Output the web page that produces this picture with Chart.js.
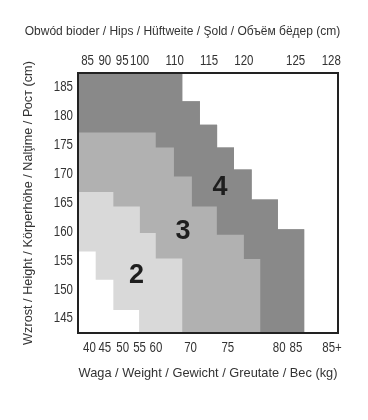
<!DOCTYPE html>
<html>
<head>
<meta charset="utf-8">
<script src="https://cdn.jsdelivr.net/npm/chart.js@4.4.1/dist/chart.umd.min.js"></script>
<style>
  html, body { margin: 0; padding: 0; background: #fff; }
  #wrap { width: 368px; height: 420px; position: relative; }
</style>
</head>
<body>
<div id="wrap"><canvas id="sizeChart"></canvas></div>
<script>
  // x runs 0..100 across the grid (the weight / hip columns are not evenly spaced)
  const hipTicks = ['85', '90', '95', '100', '110', '115', '120', '125', '128'];
  const hipTickAt = [3.7, 10.3, 17.0, 23.7, 37.2, 50.4, 63.8, 83.7, 97.4];
  const weightTicks = ['40', '45', '50', '55', '60', '70', '75', '80', '85', '85+'];
  const weightTickAt = [4.4, 10.3, 17.2, 23.7, 30.0, 43.3, 57.6, 77.4, 83.8, 97.7];
  const heightTicks = [145, 150, 155, 160, 165, 170, 175, 180, 185];

  // staircase borders between the size zones, [x, height cm]
  const edge4Outer = [[40.1, 187.5], [40.1, 182.6], [46.9, 182.6], [46.9, 178.55], [53.5, 178.55],
    [53.5, 174.6], [60.0, 174.6], [60.0, 170.8], [66.8, 170.8], [66.8, 165.6], [76.9, 165.6],
    [76.9, 160.45], [87.0, 160.45], [87.0, 142.5]];
  const edge3to4 = [[0, 177.2], [29.9, 177.2], [29.9, 174.6], [36.9, 174.6], [36.9, 169.6],
    [43.8, 169.6], [43.8, 164.4], [53.4, 164.4], [53.4, 159.5], [63.8, 159.5], [63.8, 155.3],
    [70.1, 155.3], [70.1, 142.5]];
  const edge2to3 = [[0, 166.9], [13.6, 166.9], [13.6, 164.4], [23.8, 164.4], [23.8, 159.8],
    [29.9, 159.8], [29.9, 155.4], [40.1, 155.4], [40.1, 142.5]];
  const edge2Outer = [[0, 156.6], [6.8, 156.6], [6.8, 151.7], [13.6, 151.7], [13.6, 146.5],
    [23.5, 146.5], [23.5, 142.5]];

  const sizeNames = ['2', '3', '4'];
  const sizeLabelAt = [[22.5, 152.5], [40.4, 160.0], [54.6, 167.6]];

  const sans = "'Liberation Sans', Arial, sans-serif";

  const toPts = arr => arr.map(p => ({ x: p[0], y: p[1] }));
  const corner = [{ x: 0, y: 187.5 }];

  // each layer covers its own zone plus the darker ones drawn over it
  const layer2 = corner.concat(toPts(edge4Outer), toPts(edge2Outer).reverse());
  const layer3 = corner.concat(toPts(edge4Outer), toPts(edge2to3).reverse());
  const layer4 = corner.concat(toPts(edge4Outer), toPts(edge3to4).reverse());

  function zone(points, color) {
    return {
      data: points,
      showLine: true,
      fill: 'shape',
      backgroundColor: color,
      borderColor: 'transparent',
      borderWidth: 0,
      pointRadius: 0,
      tension: 0
    };
  }

  // narrow tick labels (no condensed face installed, so squeeze a normal one)
  function narrowText(ctx, text, x, y) {
    ctx.save();
    ctx.translate(x, y);
    ctx.scale(0.82, 1);
    ctx.fillText(text, 0, 0);
    ctx.restore();
  }

  const decor = {
    id: 'decor',
    afterDatasetsDraw(chart) {
      const { ctx, chartArea: a, scales } = chart;
      ctx.save();
      ctx.fillStyle = '#1e1e1e';
      ctx.font = 'bold 27px ' + sans;
      ctx.textAlign = 'center';
      ctx.textBaseline = 'middle';
      sizeNames.forEach((n, i) => {
        ctx.fillText(n, scales.x.getPixelForValue(sizeLabelAt[i][0]), scales.y.getPixelForValue(sizeLabelAt[i][1]));
      });
      ctx.strokeStyle = '#222';
      ctx.lineWidth = 2;
      ctx.strokeRect(a.left, a.top, a.right - a.left, a.bottom - a.top);

      ctx.fillStyle = '#333';
      ctx.font = '14px ' + sans;
      scales.x.ticks.forEach((t, i) => narrowText(ctx, weightTicks[i], scales.x.getPixelForTick(i), a.bottom + 15));
      scales.x2.ticks.forEach((t, i) => narrowText(ctx, hipTicks[i], scales.x2.getPixelForTick(i), a.top - 12));
      ctx.textAlign = 'right';
      scales.y.ticks.forEach((t, i) => narrowText(ctx, String(heightTicks[i]), a.left - 5, scales.y.getPixelForTick(i)));

      ctx.textAlign = 'center';
      ctx.font = '12px ' + sans;
      ctx.fillText('Obwód bioder / Hips / Hüftweite / Şold / Объём бёдер (cm)', a.left + 104.5, a.top - 41);
      ctx.restore();
    }
  };

  new Chart(document.getElementById('sizeChart'), {
    type: 'scatter',
    data: {
      datasets: [
        zone(layer4, '#898989'),
        zone(layer3, '#b1b1b1'),
        zone(layer2, '#d9d9d9')
      ]
    },
    options: {
      responsive: true,
      maintainAspectRatio: false,
      animation: false,
      layout: { padding: { left: 0, right: 30, top: 0, bottom: 0 } },
      plugins: { legend: { display: false }, tooltip: { enabled: false } },
      scales: {
        x: {
          type: 'linear', position: 'bottom', min: 0, max: 100,
          grid: { display: false, drawTicks: false }, border: { display: false },
          afterBuildTicks: ax => { ax.ticks = weightTickAt.map(v => ({ value: v })); },
          afterFit: ax => { ax.height = 87; },
          ticks: { display: false },
          title: { display: true, text: 'Waga / Weight / Gewicht / Greutate / Bec (kg)', color: '#333',
            font: { family: sans, size: 12.8 }, padding: { top: 0, bottom: 39 } }
        },
        x2: {
          type: 'linear', position: 'top', min: 0, max: 100,
          grid: { display: false, drawTicks: false }, border: { display: false },
          afterBuildTicks: ax => { ax.ticks = hipTickAt.map(v => ({ value: v })); },
          afterFit: ax => { ax.height = 73; },
          ticks: { display: false }
        },
        y: {
          type: 'linear', position: 'left', min: 142.5, max: 187.5,
          grid: { display: false, drawTicks: false }, border: { display: false },
          afterBuildTicks: ax => { ax.ticks = heightTicks.map(v => ({ value: v })); },
          afterFit: ax => { ax.width = 78; },
          ticks: { display: false },
          title: { display: true, text: 'Wzrost / Height / Körperhöhe / Nalţime / Рост (cm)', color: '#333',
            font: { family: sans, size: 12.7 }, padding: { top: 21, bottom: 0 } }
        }
      }
    },
    plugins: [decor]
  });
</script>
</body>
</html>
